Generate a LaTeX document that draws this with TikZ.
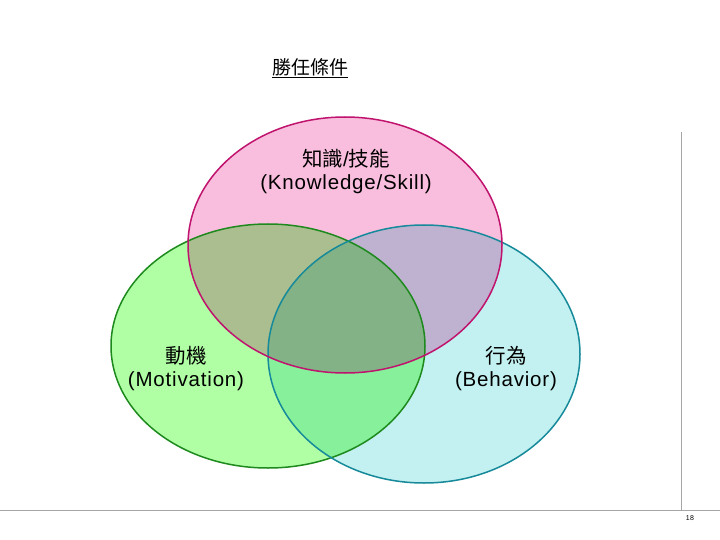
\documentclass[tikz,border=0pt]{standalone}
\usepackage{fontspec}
\setmainfont{Liberation Sans}[LetterSpace=4]
\newfontfamily\cjk{Noto Sans CJK TC}
\begin{document}
\begin{tikzpicture}[x=1pt,y=-1pt,
  lab/.style={align=center,font=\fontsize{20.5}{23}\selectfont,inner sep=0pt}]
\useasboundingbox (0,0) rectangle (720,540);
\fill[white] (0,0) rectangle (720,540);
\definecolor{pinkf}{HTML}{F9BEDD}\definecolor{pinkd}{HTML}{C0136E}
\definecolor{greenf}{HTML}{B0FFA5}\definecolor{greend}{HTML}{1E8A1E}
\definecolor{cyanf}{HTML}{C3F0F0}\definecolor{cyand}{HTML}{168A9A}
\node[lab,font=\fontsize{19}{22}\selectfont] (t) at (310,68) {\cjk\underline{勝任條件}};
\begin{scope}[blend group=multiply]
\path[fill=greenf] (268,346) ellipse [x radius=157,y radius=122];
\path[fill=cyanf] (424,354) ellipse [x radius=156,y radius=129];
\path[fill=pinkf] (345,245) ellipse [x radius=157,y radius=128];
\end{scope}
\draw[greend,line width=1.5pt] (268,346) ellipse [x radius=157,y radius=122];
\draw[cyand,line width=1.5pt] (424,354) ellipse [x radius=156,y radius=129];
\draw[pinkd,line width=1.5pt] (345,245) ellipse [x radius=157,y radius=128];
\node[lab] (k) at (346,172) {{\cjk 知識}/{\cjk 技能}\\(Knowledge/Skill)};
\node[lab] (m) at (186,369) {{\cjk 動機}\\(Motivation)};
\node[lab] (b) at (506,369) {{\cjk 行為}\\(Behavior)};
\draw[gray!70,line width=0.8pt] (681,132) -- (681,510);
\draw[gray!70,line width=0.8pt] (0,510) -- (720,510);
\node[font=\fontsize{7}{8}\selectfont] (p) at (690,518) {18};
\end{tikzpicture}
\end{document}
